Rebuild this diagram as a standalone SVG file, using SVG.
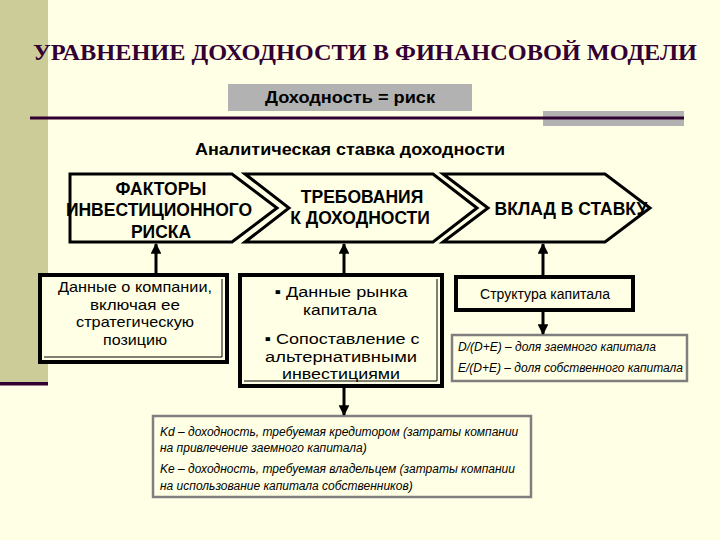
<svg xmlns="http://www.w3.org/2000/svg" width="720" height="540" viewBox="0 0 720 540">
<defs>
<style>
.bg{fill:#FFFFE5}
.chev{fill:#FFFFE5;stroke:#000;stroke-width:3;stroke-linejoin:miter}
.hd{font-family:"Liberation Sans",Arial,sans-serif;font-weight:bold;fill:#000;text-anchor:middle}
.rg{font-family:"Liberation Sans",Arial,sans-serif;fill:#000;text-anchor:middle}
.it{font-family:"Liberation Sans",Arial,sans-serif;font-style:italic;fill:#000;font-size:12px}
.box{fill:#FFFFE5;stroke:#000;stroke-width:4}
.gbox{fill:#FFFFE5;stroke:#7F7F7F;stroke-width:2.5}
.thin{fill:none;stroke:#000;stroke-width:1}
.conn{stroke:#000;stroke-width:3;fill:none}
</style>
<marker id="ah" viewBox="0 0 10 10" refX="9" refY="5" markerWidth="4.2" markerHeight="3.6" orient="auto" markerUnits="strokeWidth">
<path d="M0,0 L10,5 L0,10 Z" fill="#000"/>
</marker>
</defs>
<rect class="bg" x="0" y="0" width="720" height="540"/>
<rect x="0" y="0" width="48" height="383" fill="#CCCC99"/>
<rect x="0" y="382" width="48" height="3.5" fill="#330033"/>

<g id="title">
<text x="33" y="60" font-family="'Liberation Serif','Times New Roman',serif" font-weight="bold" font-size="24" fill="#330033" textLength="664" lengthAdjust="spacingAndGlyphs">УРАВНЕНИЕ ДОХОДНОСТИ В ФИНАНСОВОЙ МОДЕЛИ</text>
</g>

<g id="risk">
<rect x="228" y="84" width="244" height="27" fill="#B2B2B2"/>
<text class="hd" x="350" y="103" font-size="16" textLength="170" lengthAdjust="spacingAndGlyphs">Доходность = риск</text>
</g>

<g id="rule">
<rect x="543" y="111" width="141" height="15" fill="#B2B2B2"/>
<line x1="30" y1="118" x2="684" y2="118" stroke="#330033" stroke-width="3"/>
</g>

<g id="subtitle">
<text class="hd" x="350" y="155" font-size="16" textLength="310" lengthAdjust="spacingAndGlyphs">Аналитическая ставка доходности</text>
</g>

<g id="chev1">
<polygon class="chev" points="70,174 232,174 277,208 232,242 70,242"/>
<text class="hd" x="161" y="195" font-size="17.5">ФАКТОРЫ</text>
<text class="hd" x="159" y="216" font-size="17.5">ИНВЕСТИЦИОННОГО</text>
<text class="hd" x="161" y="238" font-size="17.5">РИСКА</text>
</g>

<g id="chev2">
<polygon class="chev" points="245,174 433,174 477,208 433,242 245,242 289,208"/>
<text class="hd" x="362" y="203" font-size="17.5">ТРЕБОВАНИЯ</text>
<text class="hd" x="360" y="224" font-size="17.5">К ДОХОДНОСТИ</text>
</g>

<g id="chev3">
<polygon class="chev" points="443,174 605,174 650,208 605,242 443,242 488,208"/>
<text class="hd" x="571" y="215" font-size="17.5">ВКЛАД В СТАВКУ</text>
</g>

<g id="box1">
<rect class="box" x="40" y="275" width="187" height="87"/>
<polyline class="thin" points="222,279 222,357 44,357"/>
<g class="rg" font-size="15">
<text x="135" y="292" textLength="154" lengthAdjust="spacingAndGlyphs">Данные о компании,</text>
<text x="135" y="310" textLength="90" lengthAdjust="spacingAndGlyphs">включая ее</text>
<text x="135" y="327" textLength="118" lengthAdjust="spacingAndGlyphs">стратегическую</text>
<text x="135" y="345" textLength="64" lengthAdjust="spacingAndGlyphs">позицию</text>
</g>
</g>

<g id="box2">
<rect class="box" x="240" y="275" width="202" height="111"/>
<polyline class="thin" points="437,279 437,381 244,381"/>
<g class="rg" font-size="15.5">
<text x="341" y="297" textLength="133" lengthAdjust="spacingAndGlyphs">▪ Данные рынка</text>
<text x="340" y="315" textLength="74" lengthAdjust="spacingAndGlyphs">капитала</text>
<text x="342" y="344" textLength="155" lengthAdjust="spacingAndGlyphs">▪ Сопоставление с</text>
<text x="341" y="361.5" textLength="152" lengthAdjust="spacingAndGlyphs">альтернативными</text>
<text x="341" y="379" textLength="118" lengthAdjust="spacingAndGlyphs">инвестициями</text>
</g>
</g>

<g id="box3">
<rect class="box" x="456" y="277" width="177" height="33"/>
<text class="rg" x="545" y="299" font-size="14">Структура капитала</text>
</g>

<g id="box4">
<rect class="gbox" x="452" y="335" width="235" height="46"/>
<text class="it" x="458" y="351">D/(D+E) – доля заемного капитала</text>
<text class="it" x="458" y="372">E/(D+E) – доля собственного капитала</text>
</g>

<g id="box5">
<rect class="gbox" x="153" y="416" width="378" height="81"/>
<text class="it" x="160" y="436">Kd – доходность, требуемая кредитором (затраты компании</text>
<text class="it" x="160" y="452">на привлечение заемного капитала)</text>
<text class="it" x="160" y="473">Ke – доходность, требуемая владельцем (затраты компании</text>
<text class="it" x="160" y="490">на использование капитала собственников)</text>
</g>

<g id="connectors">
<line class="conn" x1="156" y1="275" x2="156" y2="244" marker-end="url(#ah)"/>
<line class="conn" x1="344" y1="275" x2="344" y2="244" marker-end="url(#ah)"/>
<line class="conn" x1="543" y1="277" x2="543" y2="244" marker-end="url(#ah)"/>
<line class="conn" x1="543" y1="312" x2="543" y2="334" marker-end="url(#ah)"/>
<line class="conn" x1="344" y1="388" x2="344" y2="415" marker-end="url(#ah)"/>
</g>
</svg>
